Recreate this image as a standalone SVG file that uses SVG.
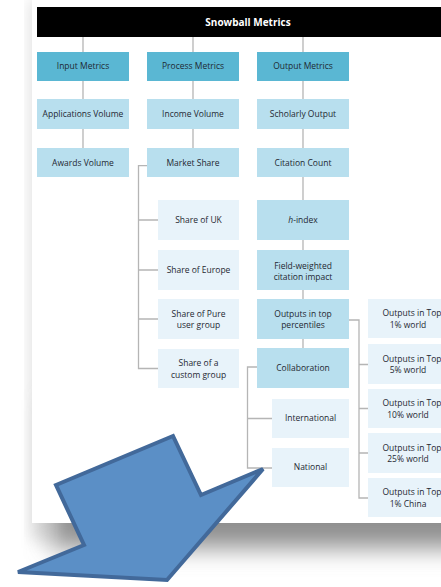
<svg xmlns="http://www.w3.org/2000/svg" width="441" height="587" viewBox="0 0 441 587">
<defs>
<filter id="blur" x="-30%" y="-30%" width="160%" height="160%"><feGaussianBlur stdDeviation="12"/></filter>
<filter id="blur2" x="-30%" y="-30%" width="160%" height="160%"><feGaussianBlur stdDeviation="8"/></filter>
<style>
.t{font-family:"Open Sans","DejaVu Sans",sans-serif;font-size:8.5px;font-weight:500;fill:#1f2832;text-anchor:middle}
.hd{font-family:"Open Sans","DejaVu Sans",sans-serif;font-size:10px;font-weight:bold;fill:#ffffff;text-anchor:middle}
.l1{fill:#5ab7d3}
.l2{fill:#b8dfee}
.l3{fill:#e8f3fa}
.ln{fill:none;stroke:#b5b5b5;stroke-width:1.3}
</style>
</defs>
<rect width="441" height="587" fill="#ffffff"/>
<rect x="30" y="0" width="20" height="540" fill="#000000" opacity="0.12" filter="url(#blur2)"/>
<rect x="50" y="400" width="420" height="148" fill="#8f8f8f" filter="url(#blur)"/>
<rect x="32" y="0" width="420" height="523" fill="#ffffff"/>
<g id="header"><rect x="37" y="7" width="410" height="30" fill="#000000"/><text class="hd" x="248" y="25.7">Snowball Metrics</text></g>
<g id="connectors">
<path class="ln" d="M83 37V52M83 81V99M83 129V148"/>
<path class="ln" d="M193 37V52M193 81V99M193 129V148"/>
<path class="ln" d="M303 37V52M303 81V99M303 129V148M303 177V200M303 240V250M303 290V299M303 339V348"/>
<path class="ln" d="M147 165.7H138.5V368.5H158M138.5 220H158M138.5 270H158M138.5 319H158"/>
<path class="ln" d="M257 367H247.5V468H272M247.5 418.5H272"/>
<path class="ln" d="M349 320H359V498H368M359 364.5H368M359 408.5H368M359 453H368"/>
</g>
<g id="input-metrics"><rect class="l1" x="37" y="52" width="92" height="29"/><text class="t" x="83" y="69">Input Metrics</text></g>
<g id="applications-volume"><rect class="l2" x="37" y="99" width="92" height="30"/><text class="t" x="83" y="116.5">Applications Volume</text></g>
<g id="awards-volume"><rect class="l2" x="37" y="148" width="92" height="29"/><text class="t" x="83" y="165.5">Awards Volume</text></g>
<g id="process-metrics"><rect class="l1" x="147" y="52" width="92" height="29"/><text class="t" x="193" y="69">Process Metrics</text></g>
<g id="income-volume"><rect class="l2" x="147" y="99" width="92" height="30"/><text class="t" x="193" y="116.5">Income Volume</text></g>
<g id="market-share"><rect class="l2" x="147" y="148" width="92" height="29"/><text class="t" x="193" y="165.5">Market Share</text></g>
<g id="share-uk"><rect class="l3" x="158" y="200" width="81" height="40"/><text class="t" x="198.5" y="222.5">Share of UK</text></g>
<g id="share-europe"><rect class="l3" x="158" y="250" width="81" height="40"/><text class="t" x="198.5" y="272.5">Share of Europe</text></g>
<g id="share-pure"><rect class="l3" x="158" y="299" width="81" height="40"/><text class="t" x="198.5" y="316.5">Share of Pure</text><text class="t" x="198.5" y="328">user group</text></g>
<g id="share-custom"><rect class="l3" x="158" y="349" width="81" height="39"/><text class="t" x="198.5" y="366">Share of a</text><text class="t" x="198.5" y="377.5">custom group</text></g>
<g id="output-metrics"><rect class="l1" x="257" y="52" width="92" height="29"/><text class="t" x="303" y="69">Output Metrics</text></g>
<g id="scholarly-output"><rect class="l2" x="257" y="99" width="92" height="30"/><text class="t" x="303" y="116.5">Scholarly Output</text></g>
<g id="citation-count"><rect class="l2" x="257" y="148" width="92" height="29"/><text class="t" x="303" y="165.5">Citation Count</text></g>
<g id="h-index"><rect class="l2" x="257" y="200" width="92" height="40"/><text class="t" x="303" y="222.5"><tspan font-style="italic">h</tspan>-index</text></g>
<g id="fwci"><rect class="l2" x="257" y="250" width="92" height="40"/><text class="t" x="303" y="268.5">Field-weighted</text><text class="t" x="303" y="280">citation impact</text></g>
<g id="outputs-top"><rect class="l2" x="257" y="299" width="92" height="40"/><text class="t" x="303" y="316.5">Outputs in top</text><text class="t" x="303" y="328">percentiles</text></g>
<g id="collaboration"><rect class="l2" x="257" y="348" width="92" height="40"/><text class="t" x="303" y="370.5">Collaboration</text></g>
<g id="international"><rect class="l3" x="272" y="399" width="77" height="39"/><text class="t" x="310.5" y="421">International</text></g>
<g id="national"><rect class="l3" x="272" y="448" width="77" height="39"/><text class="t" x="310.5" y="470">National</text></g>
<g id="top1-world"><rect class="l3" x="368" y="299" width="92" height="39"/><text class="t" x="412" y="316">Outputs in Top</text><text class="t" x="408" y="327.5">1% world</text></g>
<g id="top5-world"><rect class="l3" x="368" y="344" width="92" height="40"/><text class="t" x="412" y="361.5">Outputs in Top</text><text class="t" x="408" y="373">5% world</text></g>
<g id="top10-world"><rect class="l3" x="368" y="389" width="92" height="39"/><text class="t" x="412" y="406">Outputs in Top</text><text class="t" x="408" y="417.5">10% world</text></g>
<g id="top25-world"><rect class="l3" x="368" y="433" width="92" height="40"/><text class="t" x="412" y="450.5">Outputs in Top</text><text class="t" x="408" y="462">25% world</text></g>
<g id="top1-china"><rect class="l3" x="368" y="478" width="92" height="39"/><text class="t" x="412" y="495">Outputs in Top</text><text class="t" x="408" y="506.5">1% China</text></g>
<polygon id="arrow" points="56,485 173,436 201,495 263,469 167,580 18,572 84,545" fill="#5b8fc6" stroke="#42699a" stroke-width="4" stroke-linejoin="miter"/>
</svg>
